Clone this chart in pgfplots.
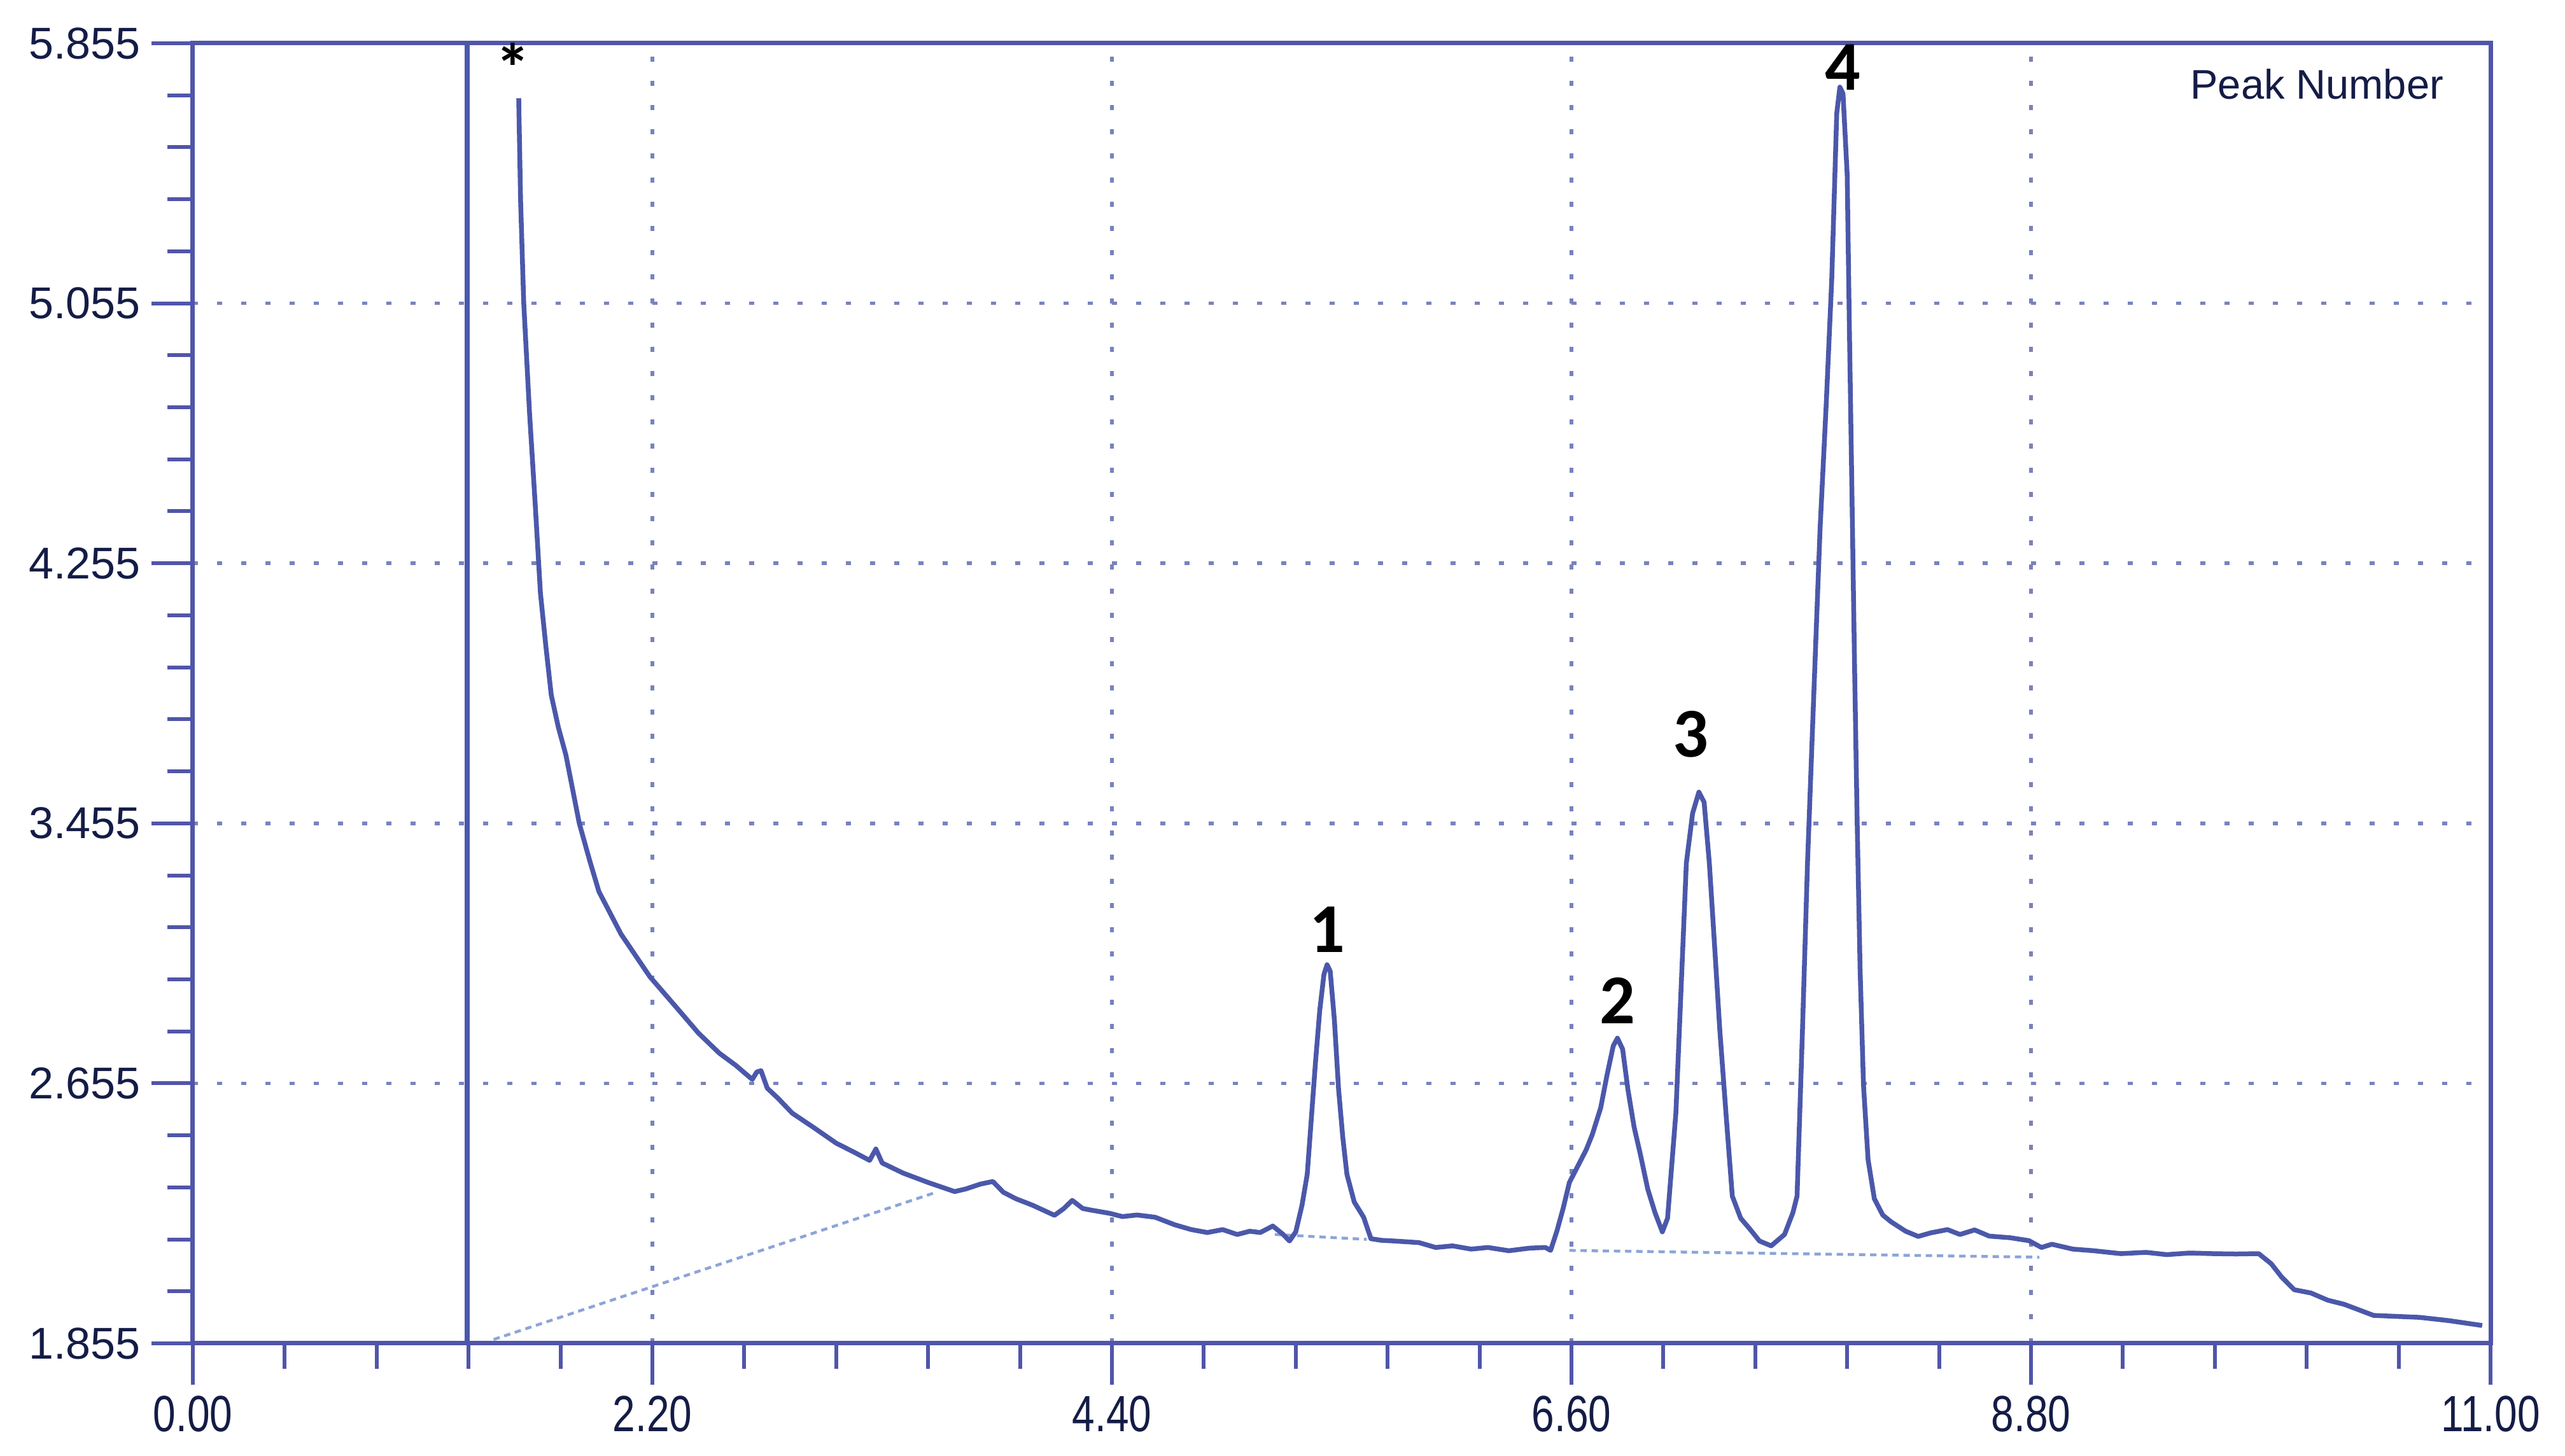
\documentclass[border=0pt]{standalone}
\usepackage{fontspec}
\setmainfont{Liberation Sans}
\newfontfamily\peakfont{Carlito}
\usepackage{graphicx}
\usepackage{pgfplots}
\pgfplotsset{compat=1.18}

\definecolor{trace}{RGB}{75,88,170}
\definecolor{axiscol}{RGB}{80,85,170}
\definecolor{gridcol}{RGB}{120,130,190}
\definecolor{basecol}{RGB}{140,165,215}
\definecolor{labelcol}{RGB}{20,28,70}

\begin{document}
\begin{tikzpicture}
\begin{axis}[
  scale only axis,
  width=722pt, height=408.6pt,
  xmin=0, xmax=11, ymin=1.855, ymax=5.855,
  xtick={0,2.2,4.4,6.6,8.8,11},
  ytick={1.855,2.655,3.455,4.255,5.055,5.855},
  minor x tick num=4, minor y tick num=4,
  xtick pos=bottom, ytick pos=left,
  tick align=outside,
  major tick length=13pt, minor tick length=8pt,
  axis line style={draw=axiscol, line width=1.4pt},
  every tick/.style={axiscol, line width=1.2pt},
  grid=major,
  major grid style={gridcol, line width=1.1pt, dash pattern=on 1.6pt off 6pt},
  /pgf/number format/assume math mode=true,
  xticklabel={\scalebox{0.8}[1]{\pgfmathprintnumber[fixed,fixed zerofill,precision=2]{\tick}}},
  yticklabel={\pgfmathprintnumber[fixed,fixed zerofill,precision=3]{\tick}},
  x tick label style={font=\fontsize{16}{18}\selectfont, text=labelcol},
  y tick label style={font=\fontsize{14}{16}\selectfont, text=labelcol},
  clip=true,
]
% integration baselines
\addplot[basecol, line width=0.9pt, dash pattern=on 2pt off 1.5pt] coordinates {(1.44,1.867) (3.55,2.318)};
\addplot[basecol, line width=0.9pt, dash pattern=on 2pt off 1.5pt] coordinates {(5.18,2.19) (5.62,2.175)};
\addplot[basecol, line width=0.9pt, dash pattern=on 2pt off 1.5pt] coordinates {(6.59,2.141) (8.84,2.12)};

% injection spike (off scale)
\addplot[trace, line width=1.5pt] coordinates {(1.313,1.855) (1.313,6.3)};

% chromatogram trace
\addplot[trace, line width=1.5pt, line join=round] coordinates {
(1.56,5.686) (1.569,5.371) (1.584,5.057) (1.612,4.716) (1.64,4.426)
(1.664,4.163) (1.69,4.00) (1.716,3.849) (1.75,3.75) (1.786,3.665)
(1.85,3.455) (1.90,3.34) (1.944,3.245) (2.05,3.114) (2.188,2.983)
(2.328,2.879) (2.42,2.81) (2.52,2.748) (2.60,2.71) (2.678,2.667)
(2.70,2.69) (2.72,2.694) (2.75,2.64) (2.80,2.61) (2.87,2.563)
(2.97,2.52) (3.08,2.471) (3.16,2.445) (3.24,2.418) (3.27,2.453)
(3.30,2.41) (3.40,2.379) (3.52,2.35) (3.647,2.322) (3.70,2.33)
(3.77,2.345) (3.83,2.353) (3.88,2.32) (3.94,2.30) (4.02,2.28)
(4.125,2.249) (4.17,2.27) (4.21,2.295) (4.26,2.27) (4.30,2.265)
(4.39,2.255) (4.45,2.245) (4.52,2.25) (4.607,2.243) (4.70,2.22)
(4.78,2.205) (4.857,2.196) (4.93,2.205) (5.00,2.19) (5.06,2.2)
(5.11,2.196) (5.17,2.216) (5.22,2.19) (5.25,2.17) (5.28,2.198)
(5.31,2.28) (5.335,2.375) (5.355,2.55) (5.375,2.724) (5.395,2.88)
(5.415,2.99) (5.43,3.02) (5.445,3.0) (5.465,2.85) (5.485,2.637)
(5.505,2.49) (5.525,2.375) (5.56,2.29) (5.605,2.243) (5.64,2.177)
(5.69,2.172) (5.75,2.17) (5.87,2.165) (5.95,2.15) (6.03,2.155)
(6.12,2.145) (6.2,2.15) (6.3,2.14) (6.4,2.148) (6.475,2.15)
(6.50,2.141) (6.53,2.2) (6.56,2.27) (6.59,2.35) (6.63,2.40)
(6.67,2.45) (6.70,2.498) (6.74,2.58) (6.77,2.68) (6.80,2.77)
(6.82,2.794) (6.845,2.76) (6.87,2.637) (6.90,2.52) (6.93,2.436)
(6.965,2.33) (7.0,2.257) (7.035,2.198) (7.06,2.24) (7.10,2.565)
(7.125,2.95) (7.15,3.333) (7.18,3.486) (7.21,3.551) (7.235,3.52)
(7.26,3.333) (7.285,3.08) (7.31,2.82) (7.34,2.56) (7.37,2.308)
(7.41,2.24) (7.455,2.206) (7.50,2.17) (7.556,2.155) (7.62,2.19)
(7.66,2.257) (7.68,2.308) (7.705,2.8) (7.73,3.333) (7.76,3.85)
(7.79,4.359) (7.82,4.75) (7.846,5.128) (7.87,5.64) (7.885,5.72)
(7.90,5.70) (7.92,5.45) (7.93,5.0) (7.942,4.5) (7.955,3.95)
(7.968,3.45) (7.982,3.0) (7.998,2.65) (8.02,2.42) (8.05,2.30)
(8.09,2.25) (8.13,2.229) (8.2,2.2) (8.26,2.184) (8.32,2.195)
(8.40,2.205) (8.46,2.19) (8.53,2.204) (8.6,2.185) (8.7,2.18)
(8.79,2.171) (8.85,2.15) (8.9,2.16) (9.0,2.145) (9.1,2.14)
(9.23,2.131) (9.35,2.135) (9.45,2.128) (9.56,2.133) (9.67,2.131)
(9.78,2.13) (9.89,2.131) (9.95,2.1) (10.0,2.059) (10.06,2.02)
(10.14,2.01) (10.22,1.988) (10.3,1.975) (10.44,1.941) (10.55,1.938)
(10.66,1.935) (10.8,1.925) (10.96,1.91)
};

% peak labels
\node[font=\peakfont\bfseries\fontsize{22}{24}\selectfont] at (axis cs:1.533,5.78) {*};
\node[font=\peakfont\bfseries\fontsize{22}{24}\selectfont] at (axis cs:5.43,3.128) {1};
\node[font=\peakfont\bfseries\fontsize{22}{24}\selectfont] at (axis cs:6.82,2.91) {2};
\node[font=\peakfont\bfseries\fontsize{22}{24}\selectfont] at (axis cs:7.17,3.73) {3};
\node[font=\peakfont\bfseries\fontsize{22}{24}\selectfont] at (axis cs:7.90,5.78) {4};
\node[anchor=east, text=labelcol, font=\fontsize{13}{15}\selectfont, inner sep=0pt]
  at ([xshift=-14.6pt, yshift=-12.8pt]rel axis cs:1,1) {Peak Number};
\end{axis}
\pgfresetboundingbox
\useasboundingbox (-60.6pt,-35.4pt) rectangle (745.4pt,422.2pt);
\end{tikzpicture}
\end{document}
